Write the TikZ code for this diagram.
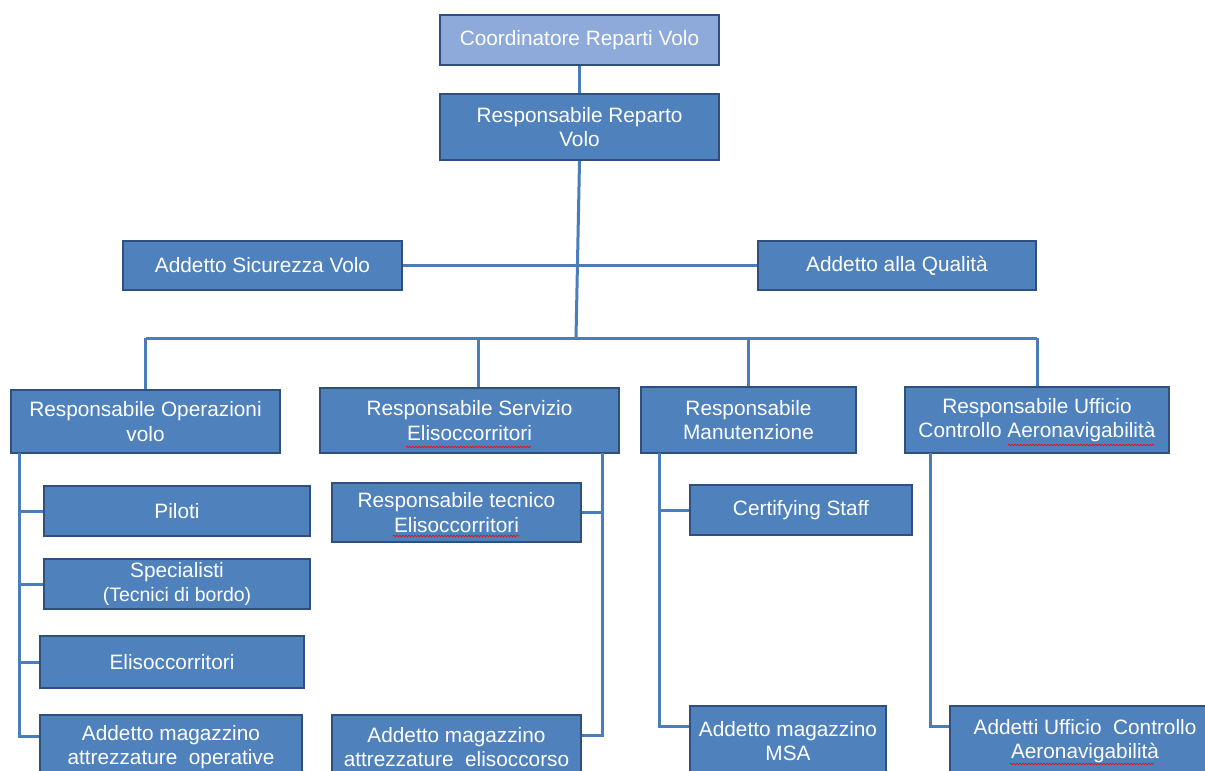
\documentclass[tikz,border=0pt]{standalone}
\usepackage{fontspec}
\setmainfont{Liberation Sans}
\usetikzlibrary{decorations.pathmorphing}
\definecolor{boxfill}{HTML}{4F81BD}
\definecolor{boxlight}{HTML}{8EAADB}
\definecolor{boxline}{HTML}{2F4F7F}
\definecolor{conn}{HTML}{4A7EBB}
\begin{document}
\begin{tikzpicture}[x=1pt,y=-1pt,
  box/.style={draw=boxline, line width=2.4pt, fill=boxfill, text=white, inner sep=0pt,
    align=center, font=\fontsize{20.8}{24.5}\selectfont},
  lightbox/.style={box, fill=boxlight},
  link/.style={draw=conn, line width=3pt},
  spell/.style={draw=red, line width=0.6pt, decorate, decoration={snake, amplitude=0.8pt, segment length=3pt}}]
\useasboundingbox[fill=white] (0,0) rectangle (1205,771);

% top
\node[lightbox, minimum width=279, minimum height=50] (coord) at (579.5,40) {Coordinatore Reparti Volo};
\node[box, minimum width=279, minimum height=66] (rep) at (579.5,127) {Responsabile Reparto\\Volo};
\node[box, minimum width=279, minimum height=49] (sic) at (262.5,265.5) {Addetto Sicurezza Volo};
\node[box, minimum width=278, minimum height=49] (qual) at (897,265.5) {Addetto alla Qualità};

% responsabili
\node[box, minimum width=269, minimum height=63] (ops) at (145.5,421.5) {Responsabile Operazioni\\volo};
\node[box, minimum width=299, minimum height=65] (serv) at (469.5,420.5) {Responsabile Servizio\\Elisoccorritori};
\node[box, minimum width=215, minimum height=66] (man) at (748.5,420) {Responsabile\\Manutenzione};
\node[box, minimum width=264, minimum height=66] (uff) at (1037,420) {Responsabile Ufficio\\Controllo Aeronavigabilità};

% operazioni volo
\node[box, minimum width=266, minimum height=50] (pil) at (177,511) {Piloti};
\node[box, minimum width=266, minimum height=50] (spe) at (177,584) {Specialisti\\{\fontsize{19.5}{20}\selectfont (Tecnici di bordo)}};
\node[box, minimum width=264, minimum height=52] (eli) at (172,662) {Elisoccorritori};
\node[box, minimum width=262, minimum height=64] (mag1) at (171,747) {Addetto magazzino\\attrezzature\ \ operative};

% servizio elisoccorritori
\node[box, minimum width=249, minimum height=59] (tec) at (456.5,512.5) {Responsabile tecnico\\Elisoccorritori};
\node[box, minimum width=249, minimum height=64] (mag2) at (456.5,747) {Addetto magazzino\\attrezzature\ \ elisoccorso};

% manutenzione
\node[box, minimum width=222, minimum height=50] (cert) at (801,510) {Certifying Staff};
\node[box, minimum width=196, minimum height=70] (msa) at (788,741) {Addetto magazzino\\MSA};

% ufficio
\node[box, minimum width=270, minimum height=70] (add) at (1085,741) {Addetti Ufficio\ \ Controllo\\Aeronavigabilità};

% connectors
\coordinate (hub) at (576,338);
\coordinate (busL) at (145.5,338);
\coordinate (busR) at (1037,338);
\coordinate (bs) at (478,338);
\path[link] (coord.south) -- (rep.north);
\path[link] (rep.south) -- (hub);
\path[link] (sic.east) -- (qual.west);
\path[link] (busL) -- (busR);
\path[link] (busL) -- (ops.north);
\path[link] (bs) -- (bs |- serv.north);
\path[link] (man.north |- hub) -- (man.north);
\path[link] (busR) -- (uff.north);

\coordinate (t1) at (19,453);
\coordinate (t2) at (602,453);
\coordinate (t3) at (659,453);
\coordinate (t4) at (930,453);
\path[link] (t1) |- ([yshift=-23pt]mag1.north west);
\path[link] (pil.west) -- (pil.west -| t1);
\path[link] (spe.west) -- (spe.west -| t1);
\path[link] (eli.west) -- (eli.west -| t1);
\path[link] (t2) |- ([yshift=-22pt]mag2.north east);
\path[link] (tec.east) -- (tec.east -| t2);
\path[link] (t3) |- ([yshift=-22pt]msa.north west);
\path[link] (cert.west) -- (cert.west -| t3);
\path[link] (t4) |- ([yshift=-22pt]add.north west);

% spell-check underlines
\path[spell] (406,447) -- (531,447);
\path[spell] (393,536) -- (519,536);
\path[spell] (1008,445) -- (1154,445);
\path[spell] (1010,764) -- (1154,764);
\end{tikzpicture}
\end{document}
